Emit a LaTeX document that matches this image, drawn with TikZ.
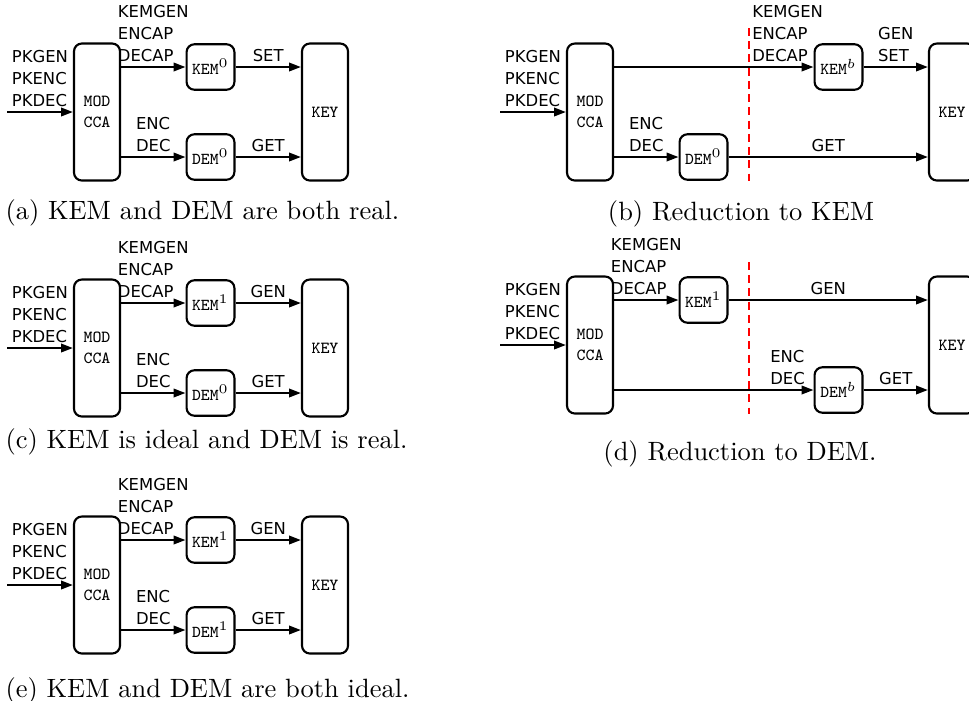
\documentclass[tikz,border=0pt]{standalone}
\usepackage{fontspec}
\newfontfamily\labelfont{DejaVu Sans}
\usetikzlibrary{arrows.meta}

\begin{document}
\begin{tikzpicture}[
    x=0.378pt, y=-0.378pt,
    modbox/.style={rectangle, rounded corners=3pt, draw=black, thick, minimum width=17.4pt, minimum height=51.8pt, inner sep=0pt, align=center, font=\ttfamily\fontsize{6.4}{8}\selectfont},
    kembox/.style={rectangle, rounded corners=3pt, draw=black, thick, minimum width=18.1pt, minimum height=17.2pt, inner sep=0pt, font=\fontsize{6.3}{8}\selectfont},
    lbl/.style={above, inner ysep=1.7pt, align=left, font=\labelfont\fontsize{6.2}{8.3}\selectfont},
    arrow/.style={thick, -{Triangle[length=4.5pt,width=3.2pt]}},
    cut/.style={red, thick, dash pattern=on 3pt off 2pt},
    caption/.style={anchor=base west, inner sep=0pt, font=\fontsize{10}{12}\selectfont}
]
\useasboundingbox (0,0) rectangle (969,700);

% (a) both real
\coordinate (ina) at (7,112);
\node (moda) [modbox] at (97,112) {MOD\\CCA};
\node (kema) [kembox] at (210.5,67) {\texttt{KEM}$^0$};
\node (dema) [kembox] at (210.5,157) {\texttt{DEM}$^0$};
\node (keya) [modbox] at (325,112) {KEY};
\draw [arrow] (ina) -- node[lbl] {PKGEN\\PKENC\\PKDEC} (moda);
\draw [arrow] (moda.east |- kema) -- node[lbl] {KEMGEN\\ENCAP\\DECAP} (kema);
\draw [arrow] (moda.east |- dema) -- node[lbl] {ENC\\DEC} (dema);
\draw [arrow] (kema) -- node[lbl] {SET} (keya.west |- kema);
\draw [arrow] (dema) -- node[lbl] {GET} (keya.west |- dema);
\node (capa) [caption] at (5,219) {(a) KEM and DEM are both real.};

% (c) KEM ideal
\begin{scope}[shift={(0,236)}]
\coordinate (inc) at (7,112);
\node (modc) [modbox] at (97,112) {MOD\\CCA};
\node (kemc) [kembox] at (210.5,67) {\texttt{KEM}$^1$};
\node (demc) [kembox] at (210.5,157) {\texttt{DEM}$^0$};
\node (keyc) [modbox] at (325,112) {KEY};
\draw [arrow] (inc) -- node[lbl] {PKGEN\\PKENC\\PKDEC} (modc);
\draw [arrow] (modc.east |- kemc) -- node[lbl] {KEMGEN\\ENCAP\\DECAP} (kemc);
\draw [arrow] (modc.east |- demc) -- node[lbl] {ENC\\DEC} (demc);
\draw [arrow] (kemc) -- node[lbl] {GEN} (keyc.west |- kemc);
\draw [arrow] (demc) -- node[lbl] {GET} (keyc.west |- demc);
\node (capc) [caption] at (5,212) {(c) KEM is ideal and DEM is real.};
\end{scope}

% (e) both ideal
\begin{scope}[shift={(0,473)}]
\coordinate (ine) at (7,112);
\node (mode) [modbox] at (97,112) {MOD\\CCA};
\node (keme) [kembox] at (210.5,67) {\texttt{KEM}$^1$};
\node (deme) [kembox] at (210.5,157) {\texttt{DEM}$^1$};
\node (keye) [modbox] at (325,112) {KEY};
\draw [arrow] (ine) -- node[lbl] {PKGEN\\PKENC\\PKDEC} (mode);
\draw [arrow] (mode.east |- keme) -- node[lbl] {KEMGEN\\ENCAP\\DECAP} (keme);
\draw [arrow] (mode.east |- deme) -- node[lbl] {ENC\\DEC} (deme);
\draw [arrow] (keme) -- node[lbl] {GEN} (keye.west |- keme);
\draw [arrow] (deme) -- node[lbl] {GET} (keye.west |- deme);
\node (cape) [caption] at (5,224) {(e) KEM and DEM are both ideal.};
\end{scope}

% (b) reduction to KEM
\coordinate (inb) at (500,112);
\node (modb) [modbox] at (590,112) {MOD\\CCA};
\node (kemb) [kembox] at (838.5,67) {\texttt{KEM}$^b$};
\node (demb) [kembox] at (703.5,157) {\texttt{DEM}$^0$};
\node (keyb) [modbox] at (952,112) {KEY};
\coordinate (cutb1) at (749,28);
\coordinate (cutb2) at (749,181);
\draw [cut] (cutb1) -- (cutb2);
\draw [arrow] (inb) -- node[lbl] {PKGEN\\PKENC\\PKDEC} (modb);
\draw [arrow] (modb.east |- kemb) -- node[lbl, pos=0.87] {KEMGEN\\ENCAP\\DECAP} (kemb);
\draw [arrow] (modb.east |- demb) -- node[lbl] {ENC\\DEC} (demb);
\draw [arrow] (kemb) -- node[lbl] {GEN\\SET} (keyb.west |- kemb);
\draw [arrow] (demb) -- node[lbl] {GET} (keyb.west |- demb);
\node (capb) [caption, anchor=base] at (741,220) {(b) Reduction to KEM};

% (d) reduction to DEM
\begin{scope}[shift={(0,233)}]
\coordinate (ind) at (500,112);
\node (modd) [modbox] at (590,112) {MOD\\CCA};
\node (kemd) [kembox] at (703.5,67) {\texttt{KEM}$^1$};
\node (demd) [kembox] at (838.5,157) {\texttt{DEM}$^b$};
\node (keyd) [modbox] at (952,112) {KEY};
\coordinate (cutd1) at (749,29);
\coordinate (cutd2) at (749,181);
\draw [cut] (cutd1) -- (cutd2);
\draw [arrow] (ind) -- node[lbl] {PKGEN\\PKENC\\PKDEC} (modd);
\draw [arrow] (modd.east |- kemd) -- node[lbl] {KEMGEN\\ENCAP\\DECAP} (kemd);
\draw [arrow] (modd.east |- demd) -- node[lbl, pos=0.87] {ENC\\DEC} (demd);
\draw [arrow] (kemd) -- node[lbl] {GEN} (keyd.west |- kemd);
\draw [arrow] (demd) -- node[lbl] {GET} (keyd.west |- demd);
\node (capd) [caption, anchor=base] at (740,227) {(d) Reduction to DEM.};
\end{scope}

\end{tikzpicture}
\end{document}
